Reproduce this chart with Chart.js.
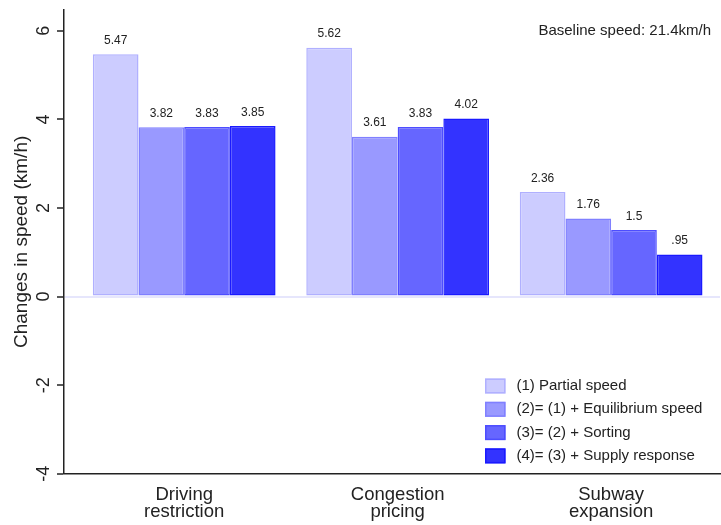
<!DOCTYPE html>
<html>
<head>
<meta charset="utf-8">
<title>Changes in speed by policy</title>
<script src="https://cdn.jsdelivr.net/npm/chart.js@4/dist/chart.umd.min.js"></script>
<style>
  html, body { margin: 0; padding: 0; background: #ffffff; }
  #wrap { width: 721px; height: 525px; position: relative; }
</style>
</head>
<body>
<div id="wrap"><canvas id="chart"></canvas></div>
<script>
// Policy scenarios along the x axis (multi-line labels)
const categories = [
  ['Driving', 'restriction'],
  ['Congestion', 'pricing'],
  ['Subway', 'expansion']
];

// Decomposition steps (legend entries)
const seriesNames = [
  '(1) Partial speed',
  '(2)= (1) + Equilibrium speed',
  '(3)= (2) + Sorting',
  '(4)= (3) + Supply response'
];

// Change in speed (km/h) per step, one value per policy
const partialSpeed     = [5.47, 5.62, 2.36];
const equilibriumSpeed = [3.82, 3.61, 1.76];
const sortingSpeed     = [3.83, 3.83, 1.50];
const supplySpeed      = [3.85, 4.02, 0.95];

// Y axis tick values
const yTicks = [-4, -2, 0, 2, 4, 6];

const baselineNote = 'Baseline speed: 21.4km/h';

const fills   = ['#ccccff', '#9999ff', '#6666ff', '#3333ff'];
const borders = ['#b0b0ff', '#8080ff', '#4d4dff', '#1a1aff'];
const FONT = "'Liberation Sans', Arial, Helvetica, sans-serif";
const INK = '#222222';

const seriesValues = [partialSpeed, equilibriumSpeed, sortingSpeed, supplySpeed];

// Value labels written like "1.5" and ".95"
function fmt(v) {
  let s = String(Number(v.toFixed(2)));
  return s.replace(/^0\./, '.').replace(/^-0\./, '-.');
}

const datasets = seriesValues.map((vals, k) => ({
  label: seriesNames[k],
  data: vals.map((v, i) => ({ x: i, y: v })),
  backgroundColor: fills[k],
  borderColor: borders[k],
  borderWidth: 1.5,
  borderSkipped: false,
  barPercentage: 1.0,
  categoryPercentage: 0.856
}));

// Numbers printed above each bar
const valueLabels = {
  id: 'valueLabels',
  afterDatasetsDraw(chart) {
    const ctx = chart.ctx;
    ctx.save();
    ctx.font = '12px ' + FONT;
    ctx.fillStyle = INK;
    ctx.textAlign = 'center';
    ctx.textBaseline = 'middle';
    chart.data.datasets.forEach((ds, di) => {
      const meta = chart.getDatasetMeta(di);
      meta.data.forEach((bar, i) => {
        ctx.fillText(fmt(ds.data[i].y), bar.x, bar.y - 13.5);
      });
    });
    ctx.restore();
  }
};

// Legend inside the plot, lower right, plus the baseline note
const annotations = {
  id: 'annotations',
  afterDraw(chart) {
    const ctx = chart.ctx;
    const area = chart.chartArea;
    ctx.save();
    ctx.font = '15px ' + FONT;
    ctx.fillStyle = INK;
    ctx.textAlign = 'right';
    ctx.textBaseline = 'middle';
    ctx.fillText(baselineNote, area.right - 9, area.top + 21);

    const boxX = 485, boxW = 20.5, boxH = 15;
    const rowY0 = 386, rowStep = 23.3;
    chart.data.datasets.forEach((ds, k) => {
      const cy = rowY0 + k * rowStep;
      ctx.fillStyle = ds.backgroundColor;
      ctx.fillRect(boxX, cy - boxH / 2, boxW, boxH);
      ctx.strokeStyle = ds.borderColor;
      ctx.lineWidth = 1.5;
      ctx.strokeRect(boxX + 0.75, cy - boxH / 2 + 0.75, boxW - 1.5, boxH - 1.5);
      ctx.fillStyle = INK;
      ctx.textAlign = 'left';
      ctx.fillText(ds.label, 516.5, cy);
    });
    ctx.restore();
  }
};

new Chart(document.getElementById('chart'), {
  type: 'bar',
  data: { datasets },
  options: {
    responsive: true,
    maintainAspectRatio: false,
    animation: false,
    devicePixelRatio: 1,
    layout: { padding: { top: 10, right: 1, left: 0, bottom: 0 } },
    plugins: {
      legend: { display: false },
      tooltip: { enabled: false }
    },
    scales: {
      x: {
        type: 'linear',
        offset: false,
        min: -0.563,
        max: 2.51,
        afterBuildTicks(scale) {
          scale.ticks = categories.map((c, i) => ({ value: i }));
        },
        afterFit(scale) {
          scale.height = 51.3;
          scale.paddingLeft = 0;
          scale.paddingRight = 0;
        },
        grid: { display: true, drawOnChartArea: false, drawTicks: false },
        border: { display: true, color: INK, width: 1.5 },
        ticks: {
          autoSkip: false,
          maxRotation: 0,
          minRotation: 0,
          padding: 13,
          color: INK,
          font: { family: FONT, size: 18.5, lineHeight: 0.92 },
          callback: (v) => categories[v] || ''
        }
      },
      y: {
        min: -4,
        max: 6.47,
        afterBuildTicks(scale) {
          scale.ticks = yTicks.map(v => ({ value: v }));
        },
        afterFit(scale) {
          scale.width = 64;
          scale.paddingTop = 0;
          scale.paddingBottom = 0;
        },
        grid: {
          drawOnChartArea: true,
          drawTicks: true,
          tickLength: 7,
          tickColor: INK,
          tickWidth: 1.5,
          color: (c) => (c.tick && c.tick.value === 0) ? '#e6e6fc' : 'rgba(0,0,0,0)',
          lineWidth: (c) => (c.tick && c.tick.value === 0) ? 2 : 0
        },
        border: { display: true, color: INK, width: 1.5 },
        ticks: {
          minRotation: 90,
          maxRotation: 90,
          crossAlign: 'center',
          padding: 5,
          color: INK,
          font: { family: FONT, size: 18 },
          callback: (v) => String(v)
        },
        title: {
          display: true,
          text: 'Changes in speed (km/h)',
          color: INK,
          font: { family: FONT, size: 19 },
          padding: { top: 10, bottom: 0 }
        }
      }
    }
  },
  plugins: [valueLabels, annotations]
});
</script>
</body>
</html>
